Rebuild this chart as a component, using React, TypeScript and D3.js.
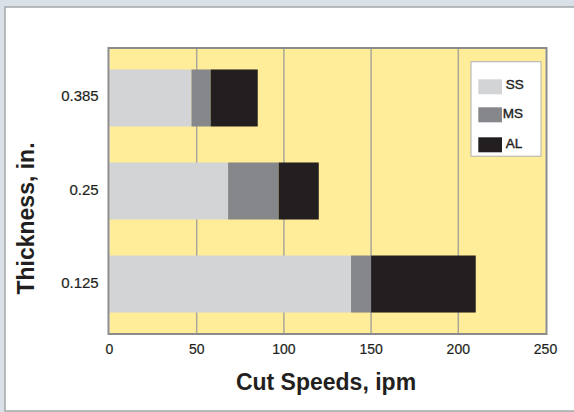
import React from "react";
import * as d3 from "d3";

const categories = ["0.385", "0.25", "0.125"];
const seriesNames = ["SS", "MS", "AL"];
const ssValues = [47, 68, 138.5];
const msValues = [11, 29, 11.5];
const alValues = [27, 23, 60];
const xTicks = [0, 50, 100, 150, 200, 250];

const colors: Record<string, string> = { SS: "#d3d4d6", MS: "#86878b", AL: "#231f20" };

export default function App() {
  const W = 574, H = 412;
  const left = 109.5, right = 545.5, top = 49, bottom = 333;
  const x = d3.scaleLinear().domain([0, 250]).range([left, right]);
  const y = d3.scaleBand<string>().domain(categories).range([top, bottom]).paddingInner(0.387).paddingOuter(0.22);

  const rows = categories.map((c, i) => ({ cat: c, SS: ssValues[i], MS: msValues[i], AL: alValues[i] }));
  const stack = d3.stack<any>().keys(seriesNames)(rows);
  const font = "Liberation Sans, Arial, Helvetica, sans-serif";
  const ink = "#231f20";

  return (
    <svg width={W} height={H} style={{ position: "absolute", left: 0, top: 0 }}>
      <rect x={0} y={0} width={W} height={H} fill="#d9e0e8" />
      <rect x={5} y={7} width={W} height={404} fill="#ffffff" stroke="#a4a6a9" strokeWidth={1.5} />
      <rect x={left} y={top} width={right - left} height={bottom - top} fill="#ffed99" />
      {xTicks.slice(1, -1).map((t) => (
        <line key={t} x1={x(t)} x2={x(t)} y1={top} y2={bottom} stroke="#aaa69a" strokeWidth={1.5} />
      ))}
      {stack.map((s) =>
        s.map((d, i) => (
          <rect
            key={s.key + i}
            x={x(d[0])}
            width={x(d[1]) - x(d[0])}
            y={y(categories[i])!}
            height={y.bandwidth()}
            fill={colors[s.key]}
          />
        ))
      )}
      <rect x={left - 1} y={top - 1} width={right - left + 2} height={bottom - top + 2} fill="none" stroke="#8c8c8c" strokeWidth={2} />
      {xTicks.map((t) => (
        <text key={t} x={x(t)} y={353.5} textAnchor="middle" fontFamily={font} fontSize={14} fill={ink} stroke={ink} strokeWidth={0.2}>{t}</text>
      ))}
      {categories.map((c) => (
        <text key={c} x={98.7} y={y(c)! + y.bandwidth() / 2 + 3.5} textAnchor="end" fontFamily={font} fontSize={15} fill={ink} stroke={ink} strokeWidth={0.2}>{c}</text>
      ))}
      <text x={326} y={389.5} textAnchor="middle" fontFamily={font} fontSize={23} fontWeight="bold" fill={ink}>Cut Speeds, ipm</text>
      <text transform="translate(33.5,218.5) rotate(-90)" textAnchor="middle" fontFamily={font} fontSize={23} fontWeight="bold" fill={ink}>Thickness, in.</text>
      <rect x={471} y={61.7} width={70} height={94.5} fill="#ffffff" stroke="#b0b0b0" strokeWidth={1} />
      {seriesNames.map((n, i) => (
        <g key={n}>
          <rect x={478.3} y={[79.3, 107.3, 137.3][i]} width={23.7} height={15} fill={colors[n]} />
          <text x={n === "MS" ? 502.7 : 505.7} y={[89.3, 118.3, 147.7][i]} fontFamily={font} fontSize={13.5} fill={ink} stroke={ink} strokeWidth={0.4}>{n}</text>
        </g>
      ))}
    </svg>
  );
}
